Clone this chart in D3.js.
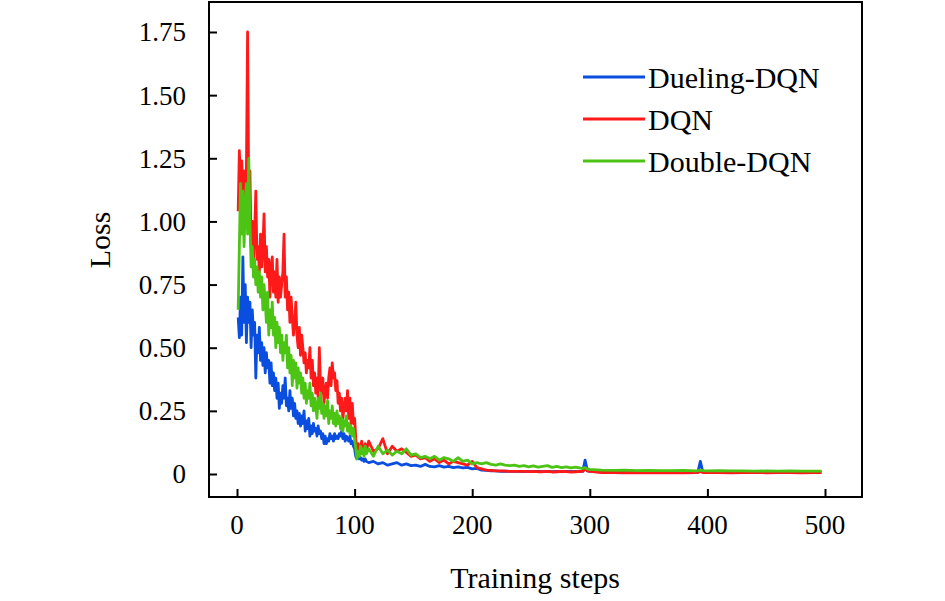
<!DOCTYPE html>
<html>
<head>
<meta charset="utf-8">
<script src="https://cdn.jsdelivr.net/npm/d3@7"></script>
<style>
  body { margin: 0; background: #fff; }
  svg { display: block; }
</style>
</head>
<body>
<div id="chart"></div>
<script>
// loss per training step, steps 1..110 (one value per step)
const duelingEarly = [
  0.62, 0.54, 0.70, 0.55, 0.86, 0.60, 0.75, 0.52, 0.70, 0.60,
  0.68, 0.50, 0.65, 0.55, 0.60, 0.38, 0.55, 0.48, 0.58, 0.45,
  0.52, 0.43, 0.50, 0.40, 0.48, 0.42, 0.45, 0.36, 0.44, 0.35,
  0.40, 0.33, 0.38, 0.30, 0.36, 0.26, 0.32, 0.28, 0.35, 0.30,
  0.38, 0.27, 0.30, 0.25, 0.33, 0.26, 0.30, 0.23, 0.28, 0.22,
  0.25, 0.20, 0.24, 0.19, 0.23, 0.20, 0.25, 0.17, 0.21, 0.18,
  0.22, 0.15, 0.19, 0.16, 0.20, 0.17, 0.18, 0.15, 0.19, 0.16,
  0.17, 0.14, 0.16, 0.12, 0.15, 0.12, 0.14, 0.13, 0.16, 0.14,
  0.15, 0.13, 0.16, 0.14, 0.15, 0.14, 0.16, 0.15, 0.17, 0.14,
  0.16, 0.13, 0.15, 0.14, 0.13, 0.15, 0.12, 0.13, 0.11, 0.10,
  0.07, 0.06, 0.07, 0.06, 0.065, 0.055, 0.06, 0.05, 0.06, 0.05
];
const dqnEarly = [
  1.04, 1.28, 1.15, 1.24, 1.12, 1.20, 1.05, 1.20, 1.75, 1.10,
  1.20, 0.90, 1.00, 0.85, 0.95, 1.12, 0.85, 0.90, 0.80, 0.95,
  0.82, 0.90, 1.03, 0.80, 0.90, 0.78, 0.85, 0.70, 0.82, 0.86,
  0.72, 0.80, 0.70, 0.85, 0.68, 0.78, 0.70, 0.75, 0.80, 0.95,
  0.70, 0.78, 0.65, 0.72, 0.60, 0.70, 0.62, 0.55, 0.60, 0.68,
  0.55, 0.50, 0.58, 0.47, 0.55, 0.50, 0.44, 0.48, 0.40, 0.45,
  0.42, 0.50, 0.38, 0.45, 0.35, 0.40, 0.32, 0.38, 0.30, 0.50,
  0.35, 0.32, 0.38, 0.28, 0.33, 0.36, 0.30, 0.38, 0.42, 0.35,
  0.44, 0.38, 0.40, 0.33, 0.37, 0.28, 0.32, 0.25, 0.30, 0.22,
  0.26, 0.30, 0.25, 0.33, 0.22, 0.30, 0.20, 0.28, 0.20, 0.22,
  0.14, 0.10, 0.12, 0.08, 0.10, 0.13, 0.08, 0.10, 0.12, 0.09
];
const doubleEarly = [
  0.65, 0.90, 1.15, 0.95, 1.12, 0.90, 1.05, 1.15, 0.95, 1.25,
  1.00, 0.82, 0.90, 0.78, 0.85, 0.75, 0.82, 0.72, 0.80, 0.70,
  0.78, 0.65, 0.75, 0.68, 0.60, 0.72, 0.55, 0.65, 0.58, 0.68,
  0.55, 0.62, 0.50, 0.60, 0.52, 0.58, 0.48, 0.55, 0.45, 0.52,
  0.48, 0.55, 0.42, 0.50, 0.40, 0.47, 0.35, 0.45, 0.38, 0.44,
  0.34, 0.42, 0.36, 0.40, 0.32, 0.38, 0.30, 0.36, 0.28, 0.33,
  0.30, 0.36, 0.27, 0.32, 0.25, 0.30, 0.27, 0.22, 0.30, 0.26,
  0.32, 0.24, 0.28, 0.22, 0.27, 0.23, 0.29, 0.20, 0.25, 0.22,
  0.27, 0.20, 0.24, 0.19, 0.25, 0.20, 0.23, 0.18, 0.22, 0.17,
  0.21, 0.19, 0.23, 0.17, 0.20, 0.16, 0.19, 0.15, 0.18, 0.14,
  0.10, 0.06, 0.09, 0.07, 0.11, 0.08, 0.10, 0.07, 0.11, 0.08
];

// later steps are sampled more sparsely
const lateSteps = [].concat(
  d3.range(112, 293, 4),
  [294, 296, 298, 300],
  d3.range(310, 391, 10),
  [392, 394, 396],
  d3.range(400, 491, 10),
  [497]
);
const duelingLate = [
  0.045, 0.05, 0.04, 0.045, 0.035, 0.04, 0.045, 0.035, 0.04, 0.033,
  0.035, 0.03, 0.038, 0.03, 0.028, 0.033, 0.027, 0.03, 0.025, 0.028, 0.024,
  0.026, 0.02, 0.022, 0.015, 0.014, 0.012, 0.012, 0.01, 0.011, 0.01, 0.01,
  0.01, 0.009, 0.01, 0.009, 0.01, 0.009, 0.01, 0.009, 0.01, 0.009, 0.01, 0.01, 0.009, 0.01,
  0.01, 0.055, 0.012, 0.01,
  0.009, 0.01, 0.009, 0.009, 0.01, 0.009, 0.009, 0.01, 0.009,
  0.01, 0.05, 0.01,
  0.009, 0.009, 0.008, 0.009, 0.008, 0.009, 0.008, 0.008, 0.009, 0.008,
  0.008
];
const dqnLate = [
  0.13, 0.09, 0.10, 0.14, 0.08, 0.11, 0.09, 0.10, 0.085, 0.07,
  0.075, 0.06, 0.065, 0.05, 0.06, 0.045, 0.055, 0.04, 0.05, 0.045, 0.04,
  0.035, 0.05, 0.025, 0.02, 0.015, 0.014, 0.012, 0.012, 0.011, 0.01, 0.01,
  0.01, 0.01, 0.009, 0.01, 0.009, 0.009, 0.01, 0.008, 0.009, 0.01, 0.009, 0.008, 0.009, 0.01,
  0.01, 0.02, 0.012, 0.01,
  0.006, 0.006, 0.005, 0.006, 0.005, 0.006, 0.005, 0.005, 0.006,
  0.006, 0.01, 0.006,
  0.006, 0.006, 0.005, 0.006, 0.006, 0.005, 0.006, 0.006, 0.005, 0.006,
  0.006
];
const doubleLate = [
  0.10, 0.07, 0.11, 0.08, 0.095, 0.075, 0.09, 0.08, 0.10, 0.075,
  0.08, 0.065, 0.07, 0.06, 0.07, 0.055, 0.065, 0.06, 0.05, 0.065, 0.05,
  0.055, 0.04, 0.045, 0.04, 0.045, 0.038, 0.035, 0.04, 0.035, 0.033, 0.035,
  0.03, 0.033, 0.028, 0.032, 0.027, 0.03, 0.033, 0.026, 0.03, 0.025, 0.028, 0.024, 0.027, 0.023,
  0.022, 0.025, 0.02, 0.018,
  0.015, 0.014, 0.015, 0.013, 0.014, 0.013, 0.013, 0.014, 0.012,
  0.013, 0.015, 0.013,
  0.012, 0.013, 0.012, 0.012, 0.011, 0.012, 0.011, 0.012, 0.011, 0.011,
  0.011
];

const seriesNames = ["Dueling-DQN", "DQN", "Double-DQN"];
const seriesColors = ["#0a4ee0", "#ff1a1a", "#4cc414"];
const xTicks = [0, 100, 200, 300, 400, 500];
const yTicks = [0, 0.25, 0.5, 0.75, 1.0, 1.25, 1.5, 1.75];
const yTickLabels = ["0", "0.25", "0.50", "0.75", "1.00", "1.25", "1.50", "1.75"];

function toPoints(early, late) {
  const pts = early.map((v, i) => [i + 1, v]);
  return pts.concat(late.map((v, i) => [lateSteps[i], v]));
}
const series = [
  toPoints(duelingEarly, duelingLate),
  toPoints(dqnEarly, dqnLate),
  toPoints(doubleEarly, doubleLate)
];

const width = 945, height = 601;
const box = { left: 209, top: 2, right: 862, bottom: 497 };
const serif = "'Liberation Serif', 'Times New Roman', Tinos, 'DejaVu Serif', serif";

const svg = d3.select("#chart").append("svg")
  .attr("width", width)
  .attr("height", height)
  .attr("font-family", serif);

const x = d3.scaleLinear().domain([0, 500]).range([237, 825]);
const y = d3.scaleLinear().domain([0, 1.75]).range([474, 32]);

// lines (blue, red, then green on top)
const line = d3.line().x(d => x(d[0])).y(d => y(d[1]));
series.forEach((pts, i) => {
  svg.append("path")
    .datum(pts)
    .attr("fill", "none")
    .attr("stroke", seriesColors[i])
    .attr("stroke-width", 2.8)
    .attr("stroke-linejoin", "round")
    .attr("d", line);
});

// frame
svg.append("rect")
  .attr("x", box.left).attr("y", box.top)
  .attr("width", box.right - box.left)
  .attr("height", box.bottom - box.top)
  .attr("fill", "none")
  .attr("stroke", "#000")
  .attr("stroke-width", 2);

// y axis: inward ticks
const yAxis = d3.axisRight(y)
  .tickValues(yTicks)
  .tickSize(8)
  .tickFormat("");
const gy = svg.append("g")
  .attr("transform", `translate(${box.left},0)`)
  .call(yAxis);
gy.select(".domain").remove();
gy.selectAll(".tick line").attr("stroke-width", 2);

svg.selectAll(".ylab")
  .data(yTicks)
  .enter().append("text")
  .attr("class", "ylab")
  .attr("x", 186)
  .attr("y", d => y(d))
  .attr("dy", "0.35em")
  .attr("text-anchor", "end")
  .style("font-family", serif)
  .style("font-size", "27px")
  .text((d, i) => yTickLabels[i]);

// x axis: inward ticks
const xAxis = d3.axisTop(x)
  .tickValues(xTicks)
  .tickSize(8)
  .tickFormat("");
const gx = svg.append("g")
  .attr("transform", `translate(0,${box.bottom})`)
  .call(xAxis);
gx.select(".domain").remove();
gx.selectAll(".tick line").attr("stroke-width", 2);

svg.selectAll(".xlab")
  .data(xTicks)
  .enter().append("text")
  .attr("class", "xlab")
  .attr("x", d => x(d))
  .attr("y", 534)
  .attr("text-anchor", "middle")
  .style("font-family", serif)
  .style("font-size", "27px")
  .text(d => d);

// axis titles
svg.append("text")
  .attr("x", 535)
  .attr("y", 588)
  .attr("text-anchor", "middle")
  .style("font-family", serif)
  .style("font-size", "30px")
  .text("Training steps");

svg.append("text")
  .attr("transform", "translate(110,240) rotate(-90)")
  .attr("text-anchor", "middle")
  .style("font-family", serif)
  .style("font-size", "30px")
  .text("Loss");

// legend
const legend = svg.append("g");
seriesNames.forEach((name, i) => {
  const ly = 77 + i * 42;
  legend.append("line")
    .attr("x1", 583).attr("x2", 645)
    .attr("y1", ly).attr("y2", ly)
    .attr("stroke", seriesColors[i])
    .attr("stroke-width", 3);
  legend.append("text")
    .attr("x", 648)
    .attr("y", ly)
    .attr("dy", "0.35em")
    .style("font-family", serif)
    .style("font-size", "30px")
    .text(name);
});
</script>
</body>
</html>
